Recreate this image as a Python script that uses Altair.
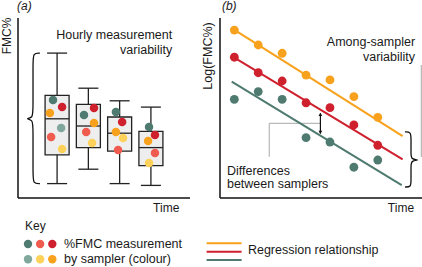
import altair as alt
import pandas as pd

FONT = "Liberation Sans"

# ---------------- samplers and colours ----------------
SAMPLERS = ["S1", "S2", "S3", "S4", "S5", "S6"]
SAMPLER_COLOURS = ["#4e7a6f", "#f05b4f", "#cf202e", "#7fa79b", "#fdd15a", "#f8a11c"]

# ---------------- panel (a): hourly boxes ----------------
box_time = [1, 2, 3, 4]
box_low = [8, 16, 8, 7]
box_q1 = [24, 28, 26, 18]
box_median = [44, 40, 36, 28]
box_q3 = [57, 52, 45, 37]
box_high = [80.5, 61, 54, 50.5]

a_time = [0.87, 1.16, 0.77, 1.13, 0.81, 1.16,
          2.18, 1.86, 2.18, 1.93, 2.12,
          2.88, 3.08, 2.88, 3.11, 2.95,
          3.94, 4.13, 3.91, 4.13, 3.94]
a_fmc = [54.4, 50.6, 47.2, 38.9, 33.9, 27.2,
         50.0, 46.1, 41.7, 36.7, 30.6,
         47.8, 42.2, 36.7, 33.3, 26.7,
         39.4, 35.0, 31.7, 25.0, 19.4]
a_sampler = ["S1", "S3", "S6", "S4", "S2", "S5",
             "S3", "S1", "S6", "S2", "S5",
             "S1", "S3", "S6", "S5", "S2",
             "S1", "S3", "S6", "S2", "S5"]

# brace spanning the hourly range (control points)
a_brace_x = [0.45, 0.23, 0.23, 0.23, 0.23, -0.03, 0.23, 0.23, 0.23, 0.23, 0.45]
a_brace_y = [80.5, 80.5, 75.5, 49, 44.5, 44, 43.5, 39, 13, 8, 8]

# ---------------- panel (b): log FMC by sampler ----------------
b_time = [1, 2, 3, 4, 5, 6, 7] * 3
b_logfmc = [9.33, 8.50, 8.04, 6.83, 6.56, 5.63, 4.48,
            7.82, 6.96, 6.50, 5.29, 5.02, 4.06, 2.93,
            5.48, 5.91, 5.48, 3.35, 3.11, 1.71, 2.11]
b_sampler = ["S6"] * 7 + ["S3"] * 7 + ["S1"] * 7

reg_sampler = ["S6", "S6", "S3", "S3", "S1", "S1"]
reg_time = [0.97, 8.04, 0.93, 8.04, 0.89, 8.0]
reg_logfmc = [9.37, 3.44, 7.85, 2.15, 6.46, 0.72]

arrow_time = [4.60]
arrow_top = [4.70]
arrow_bottom = [3.58]
arrow_head_top = [4.64]
arrow_head_bottom = [3.64]

callout_time = [4.60, 2.46, 2.46]
callout_logfmc = [4.15, 4.15, 2.29]

among_line_time = [8.82]
among_line_top = [7.39]
among_line_bottom = [2.28]

b_brace_x = [8.14, 8.39, 8.39, 8.39, 8.39, 8.79, 8.39, 8.39, 8.39, 8.39, 8.14]
b_brace_y = [3.67, 3.67, 3.28, 2.44, 2.14, 2.11, 2.08, 1.78, 0.94, 0.61, 0.61]

# ---------------- key ----------------
key_col = [0, 1, 2, 0, 1, 2]
key_row = [0, 0, 0, 1, 1, 1]
key_sampler = ["S1", "S2", "S3", "S4", "S5", "S6"]
key_line_sampler = ["S6", "S3", "S1"]
key_line_row = [-0.05, 0.5, 1.05]

# ---------------- scales ----------------
sx_a = alt.Scale(domain=[-0.25, 5.25], range=[18, 190], nice=False, zero=False)
sy_a = alt.Scale(domain=[0, 100], range=[198, 18], nice=False, zero=False)
sx_b = alt.Scale(domain=[0.4, 8.85], range=[220, 422], nice=False, zero=False)
sy_b = alt.Scale(domain=[0, 10], range=[198, 18], nice=False, zero=False)
sx_k = alt.Scale(domain=[0, 2], range=[28, 52.3], nice=False, zero=False)
sy_k = alt.Scale(domain=[0, 1], range=[244, 259.3], nice=False, zero=False)
colour = alt.Color("sampler:N", scale=alt.Scale(domain=SAMPLERS, range=SAMPLER_COLOURS), legend=None)


def X(f, s):
    return alt.X(f"{f}:Q", scale=s, axis=None)


def Y(f, s):
    return alt.Y(f"{f}:Q", scale=s, axis=None)


def text_layer(df, sx, sy, **kw):
    base = dict(font=FONT, fontSize=12.5, color="#1a1a1a", baseline="middle")
    base.update(kw)
    return alt.Chart(df).mark_text(**base).encode(x=X("x", sx), y=Y("y", sy), text="label:N")


# ================= panel (a) =================
boxes = pd.DataFrame(dict(t=box_time, low=box_low, q1=box_q1, med=box_median, q3=box_q3, high=box_high))
box_base = alt.Chart(boxes).transform_calculate(
    bl="datum.t - 0.384", br="datum.t + 0.384", cl="datum.t - 0.32", cr="datum.t + 0.32"
)
axes_a = pd.DataFrame(dict(x=[-0.25, -0.25], y=[0, 0], x2=[5.25, -0.25], y2=[0, 100]))

panel_a = alt.layer(
    alt.Chart(axes_a).mark_rule(color="#111", strokeWidth=1.5).encode(
        x=X("x", sx_a), y=Y("y", sy_a), x2="x2:Q", y2="y2:Q"),
    box_base.mark_rule(color="#222", strokeWidth=1.3).encode(x=X("t", sx_a), y=Y("low", sy_a), y2="high:Q"),
    box_base.mark_rule(color="#222", strokeWidth=1.3).encode(x=X("cl", sx_a), x2="cr:Q", y=Y("low", sy_a)),
    box_base.mark_rule(color="#222", strokeWidth=1.3).encode(x=X("cl", sx_a), x2="cr:Q", y=Y("high", sy_a)),
    box_base.mark_rect(fill="#eeeeee", stroke="#222", strokeWidth=1.3).encode(
        x=X("bl", sx_a), x2="br:Q", y=Y("q1", sy_a), y2="q3:Q"),
    box_base.mark_rule(color="#222", strokeWidth=1.3).encode(x=X("bl", sx_a), x2="br:Q", y=Y("med", sy_a)),
    alt.Chart(pd.DataFrame(dict(x=a_brace_x, y=a_brace_y, i=range(len(a_brace_x))))).mark_line(
        interpolate="basis", color="#111", strokeWidth=1.3).encode(x=X("x", sx_a), y=Y("y", sy_a), order="i:Q"),
    alt.Chart(pd.DataFrame(dict(x=a_time, y=a_fmc, sampler=a_sampler))).mark_circle(size=72, opacity=1).encode(
        x=X("x", sx_a), y=Y("y", sy_a), color=colour),
    text_layer(pd.DataFrame(dict(x=[4.68, 4.68], y=[90.6, 82.2], label=["Hourly measurement", "variability"])),
               sx_a, sy_a, align="right"),
    text_layer(pd.DataFrame(dict(x=[-0.28], y=[106.4], label=["(a)"])), sx_a, sy_a, align="left",
               fontStyle="italic", fontSize=12),
    text_layer(pd.DataFrame(dict(x=[-0.6], y=[90], label=["FMC%"])), sx_a, sy_a, align="center",
               angle=270, fontSize=12),
    text_layer(pd.DataFrame(dict(x=[4.49], y=[-5.6], label=["Time"])), sx_a, sy_a, align="center", fontSize=12),
)

# ================= panel (b) =================
axes_b = pd.DataFrame(dict(x=[0.4, 0.4], y=[0, 0], x2=[8.85, 0.4], y2=[0, 10]))
arrow = pd.DataFrame(dict(x=arrow_time, top=arrow_top, bottom=arrow_bottom,
                          ht=arrow_head_top, hb=arrow_head_bottom))
panel_b = alt.layer(
    alt.Chart(axes_b).mark_rule(color="#111", strokeWidth=1.5).encode(
        x=X("x", sx_b), y=Y("y", sy_b), x2="x2:Q", y2="y2:Q"),
    alt.Chart(pd.DataFrame(dict(x=callout_time, y=callout_logfmc, i=range(3)))).mark_line(
        color="#a8a8a8", strokeWidth=1).encode(x=X("x", sx_b), y=Y("y", sy_b), order="i:Q"),
    alt.Chart(pd.DataFrame(dict(x=among_line_time, top=among_line_top, bottom=among_line_bottom))).mark_rule(
        color="#a8a8a8", strokeWidth=1).encode(x=X("x", sx_b), y=Y("top", sy_b), y2="bottom:Q"),
    alt.Chart(pd.DataFrame(dict(x=reg_time, y=reg_logfmc, sampler=reg_sampler))).mark_line(strokeWidth=2).encode(
        x=X("x", sx_b), y=Y("y", sy_b), color=colour, detail="sampler:N"),
    alt.Chart(pd.DataFrame(dict(x=b_time, y=b_logfmc, sampler=b_sampler))).mark_circle(size=78, opacity=1).encode(
        x=X("x", sx_b), y=Y("y", sy_b), color=colour),
    alt.Chart(arrow).mark_rule(color="#111", strokeWidth=1.2).encode(
        x=X("x", sx_b), y=Y("top", sy_b), y2="bottom:Q"),
    alt.Chart(arrow).mark_point(shape="triangle-up", size=14, filled=True, color="#111", opacity=1).encode(
        x=X("x", sx_b), y=Y("ht", sy_b)),
    alt.Chart(arrow).mark_point(shape="triangle-down", size=14, filled=True, color="#111", opacity=1).encode(
        x=X("x", sx_b), y=Y("hb", sy_b)),
    alt.Chart(pd.DataFrame(dict(x=b_brace_x, y=b_brace_y, i=range(len(b_brace_x))))).mark_line(
        interpolate="basis", color="#111", strokeWidth=1.3).encode(x=X("x", sx_b), y=Y("y", sy_b), order="i:Q"),
    text_layer(pd.DataFrame(dict(x=[8.56, 8.56], y=[8.68, 7.85], label=["Among-sampler", "variability"])),
               sx_b, sy_b, align="right"),
    text_layer(pd.DataFrame(dict(x=[0.69, 0.69], y=[1.52, 0.76], label=["Differences", "between samplers"])),
               sx_b, sy_b, align="left"),
    text_layer(pd.DataFrame(dict(x=[0.48], y=[10.64], label=["(b)"])), sx_b, sy_b, align="left",
               fontStyle="italic", fontSize=12),
    text_layer(pd.DataFrame(dict(x=[-0.10], y=[7.89], label=["Log(FMC%)"])), sx_b, sy_b, align="center",
               angle=270, fontSize=12.5),
    text_layer(pd.DataFrame(dict(x=[7.97], y=[-0.57], label=["Time"])), sx_b, sy_b, align="center", fontSize=12),
)

# ================= key =================
key_lines = pd.DataFrame(dict(x=[14.7] * 3, x2=[17.58] * 3, y=key_line_row, sampler=key_line_sampler))
panel_key = alt.layer(
    text_layer(pd.DataFrame(dict(x=[-0.25], y=[-1.18], label=["Key"])), sx_k, sy_k, align="left", fontSize=12),
    alt.Chart(pd.DataFrame(dict(x=key_col, y=key_row, sampler=key_sampler))).mark_circle(size=70, opacity=1).encode(
        x=X("x", sx_k), y=Y("y", sy_k), color=colour),
    text_layer(pd.DataFrame(dict(x=[2.96, 2.96], y=[0, 1],
                                 label=["%FMC measurement", "by sampler (colour)"])), sx_k, sy_k, align="left"),
    alt.Chart(key_lines).mark_rule(strokeWidth=2).encode(x=X("x", sx_k), x2="x2:Q", y=Y("y", sy_k), color=colour),
    text_layer(pd.DataFrame(dict(x=[18.1], y=[0.39], label=["Regression relationship"])), sx_k, sy_k, align="left"),
)

chart = alt.layer(panel_a, panel_b, panel_key).resolve_scale(x="independent", y="independent").properties(
    width=422, height=267, padding=0, autosize=alt.AutoSizeParams(type="none"), background="white"
).configure_view(stroke=None)

chart.save("out.html", embed_options={"renderer": "svg", "actions": False})
